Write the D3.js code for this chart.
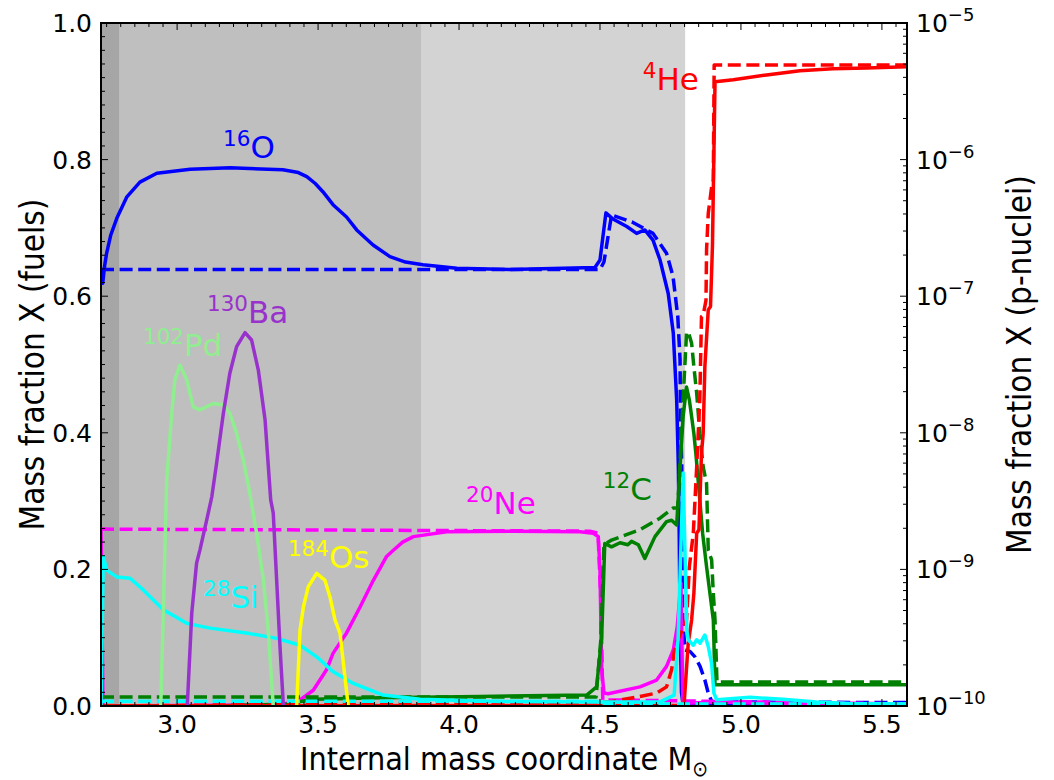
<!DOCTYPE html>
<html>
<head>
<meta charset="utf-8">
<script src="https://cdn.jsdelivr.net/npm/d3@7"></script>
<style>
  body { margin: 0; background: #fff; }
  svg { display: block; }
  text { font-family: "DejaVu Sans", sans-serif; }
  .axlabel { font-family: "DejaVu Sans Condensed", "DejaVu Sans", sans-serif; font-stretch: condensed; }
</style>
</head>
<body>
<svg id="chart" width="1054" height="780"></svg>
<script>
// ---- burning-shell boundaries (internal mass, Msun) and their shading ----
const shellEdges = [2.794, 3.865, 4.802];
const shellColors = ["#a6a6a6", "#bfbfbf", "#d3d3d3"];

// ---- fuel mass fractions: [mass coordinate, X] ----
const o16 = [[2.73,0.640],[2.736,0.619],[2.743,0.645],[2.750,0.663],[2.765,0.690],[2.786,0.714],[2.821,0.745],[2.868,0.767],[2.928,0.780],[3.046,0.786],[3.188,0.788],[3.375,0.785],[3.430,0.781],[3.460,0.775],[3.490,0.765],[3.517,0.753],[3.553,0.734],[3.601,0.716],[3.637,0.697],[3.695,0.675],[3.755,0.658],[3.810,0.650],[3.872,0.646],[3.992,0.641],[4.181,0.639],[4.482,0.642],[4.500,0.653],[4.521,0.722],[4.546,0.713],[4.595,0.702],[4.630,0.692],[4.659,0.697],[4.688,0.682],[4.713,0.653],[4.742,0.604],[4.760,0.546],[4.772,0.448],[4.778,0.350],[4.781,0.253],[4.784,0.126],[4.789,0.020],[4.794,0.004],[4.925,0.004],[5.589,0.003]];
const o16Init = [[2.73,0.639],[4.500,0.639],[4.514,0.650],[4.541,0.719],[4.617,0.708],[4.688,0.692],[4.736,0.663],[4.759,0.629],[4.776,0.570],[4.784,0.507],[4.785,0.448],[4.790,0.350],[4.793,0.126],[4.802,0.082],[4.819,0.080],[4.837,0.072],[4.855,0.058],[4.872,0.038],[4.884,0.019],[4.897,0.006],[5.589,0.005]];

const ne20 = [[2.73,0.259],[2.737,0.0],[3.365,0.0015],[3.436,0.009],[3.483,0.023],[3.530,0.053],[3.553,0.077],[3.601,0.107],[3.649,0.145],[3.696,0.184],[3.743,0.219],[3.767,0.228],[3.800,0.240],[3.838,0.248],[3.956,0.255],[4.192,0.256],[4.429,0.255],[4.476,0.253],[4.494,0.248],[4.500,0.199],[4.506,0.053],[4.514,0.019],[4.529,0.018],[4.642,0.028],[4.701,0.038],[4.736,0.058],[4.760,0.082],[4.774,0.116],[4.784,0.165],[4.787,0.180],[4.794,0.004],[4.925,0.006],[5.067,0.004],[5.589,0.003]];
const ne20Init = [[2.73,0.259],[3.907,0.257],[4.464,0.256],[4.493,0.253],[4.503,0.155],[4.510,0.009],[5.589,0.003]];

const c12 = [[2.73,0.0],[3.140,0.0],[3.389,0.003],[3.482,0.010],[3.720,0.012],[4.074,0.014],[4.453,0.016],[4.488,0.028],[4.506,0.101],[4.517,0.238],[4.541,0.233],[4.571,0.239],[4.599,0.236],[4.612,0.241],[4.636,0.236],[4.659,0.216],[4.695,0.248],[4.736,0.270],[4.754,0.272],[4.772,0.265],[4.784,0.350],[4.795,0.424],[4.807,0.467],[4.817,0.448],[4.825,0.424],[4.833,0.399],[4.840,0.370],[4.848,0.331],[4.854,0.302],[4.864,0.253],[4.878,0.204],[4.890,0.165],[4.902,0.126],[4.908,0.031],[5.589,0.031]];
const c12Init = [[2.73,0.013],[4.486,0.013],[4.503,0.097],[4.514,0.236],[4.541,0.243],[4.642,0.258],[4.713,0.275],[4.760,0.290],[4.776,0.290],[4.791,0.419],[4.807,0.546],[4.813,0.548],[4.825,0.531],[4.833,0.497],[4.843,0.458],[4.854,0.399],[4.866,0.350],[4.878,0.326],[4.884,0.228],[4.896,0.214],[4.902,0.165],[4.908,0.126],[4.915,0.035],[5.589,0.035]];

const he4 = [[2.73,0.0],[4.798,0.001],[4.813,0.092],[4.825,0.126],[4.833,0.165],[4.843,0.253],[4.851,0.258],[4.860,0.370],[4.866,0.399],[4.872,0.497],[4.884,0.580],[4.892,0.585],[4.899,0.675],[4.908,0.914],[4.973,0.917],[5.091,0.924],[5.209,0.930],[5.326,0.933],[5.446,0.934],[5.589,0.936]];
const he4Init = [[2.73,0.0],[4.535,0.006],[4.642,0.014],[4.701,0.019],[4.736,0.028],[4.754,0.053],[4.766,0.087],[4.784,0.104],[4.807,0.126],[4.817,0.204],[4.831,0.253],[4.843,0.350],[4.854,0.448],[4.860,0.570],[4.866,0.572],[4.876,0.594],[4.878,0.668],[4.884,0.721],[4.896,0.760],[4.902,0.770],[4.905,0.9385],[5.589,0.9385]];

const si28 = [[2.73,0.0],[2.738,0.219],[2.750,0.199],[2.786,0.189],[2.833,0.187],[2.880,0.170],[2.951,0.141],[3.034,0.121],[3.117,0.114],[3.258,0.106],[3.353,0.099],[3.436,0.089],[3.495,0.072],[3.554,0.050],[3.625,0.033],[3.731,0.016],[3.861,0.010],[4.145,0.0066],[4.500,0.006],[4.713,0.006],[4.763,0.016],[4.777,0.097],[4.795,0.341],[4.808,0.111],[4.813,0.097],[4.831,0.089],[4.843,0.097],[4.855,0.092],[4.872,0.104],[4.884,0.087],[4.896,0.0625],[4.904,0.019],[4.914,0.009],[5.032,0.0127],[5.149,0.0098],[5.268,0.006],[5.386,0.0037],[5.589,0.003]];
const si28Init = [[2.73,0.007],[4.50,0.007],[4.52,0.003],[5.589,0.003]];

// ---- p-nuclei mass fractions (log axis): [mass coordinate, X] ----
const pd102 = [[2.942,1e-10],[2.951,4.8e-10],[2.963,4.5e-9],[2.981,1.39e-8],[2.992,2.45e-8],[3.010,3.13e-8],[3.034,2.45e-8],[3.057,1.55e-8],[3.081,1.47e-8],[3.128,1.64e-8],[3.164,1.6e-8],[3.187,1.39e-8],[3.211,9.9e-9],[3.235,6.3e-9],[3.258,3.6e-9],[3.282,1.84e-9],[3.306,8.4e-10],[3.323,3.6e-10],[3.341,1e-10]];
const ba130 = [[3.036,1e-10],[3.052,4.8e-10],[3.069,1.11e-9],[3.081,1.39e-9],[3.105,2.3e-9],[3.123,3.4e-9],[3.140,5.98e-9],[3.164,1.39e-8],[3.187,2.73e-8],[3.211,4.27e-8],[3.241,5.41e-8],[3.264,4.78e-8],[3.288,2.88e-8],[3.312,1.24e-8],[3.332,3.22e-9],[3.341,2.58e-9],[3.353,8.4e-10],[3.365,2.7e-10],[3.377,1e-10]];
const os184 = [[3.424,1e-10],[3.436,3.6e-10],[3.448,5.33e-10],[3.465,7.46e-10],[3.495,9.35e-10],[3.524,8.36e-10],[3.542,6.31e-10],[3.560,4.27e-10],[3.578,3.4e-10],[3.595,1.64e-10],[3.607,1e-10]];

// ---- isotope annotations: mass number, element, colour, position (mass, X on fuel axis) ----
const isoLabels = [
  { a: "16",  el: "O",  color: "#0000ff", m: 3.163, x: 0.802 },
  { a: "4",   el: "He", color: "#ff0000", m: 4.652, x: 0.902 },
  { a: "130", el: "Ba", color: "#9932cc", m: 3.106, x: 0.561 },
  { a: "102", el: "Pd", color: "#90ee90", m: 2.879, x: 0.512 },
  { a: "28",  el: "Si", color: "#00ffff", m: 3.092, x: 0.143 },
  { a: "184", el: "Os", color: "#ffff00", m: 3.393, x: 0.202 },
  { a: "20",  el: "Ne", color: "#ff00ff", m: 4.025, x: 0.281 },
  { a: "12",  el: "C",  color: "#008000", m: 4.510, x: 0.302 }
];

// ---- axis settings ----
const massDomain = [2.73, 5.589];
const massTicks = [3.0, 3.5, 4.0, 4.5, 5.0, 5.5];
const fuelTicks = [0, 0.2, 0.4, 0.6, 0.8, 1.0];
const pTicksExp = [-10, -9, -8, -7, -6, -5];

// ---- layout ----
const plot = { left: 101, right: 907, top: 23, bottom: 706 };
const lw = 3.5;

const svg = d3.select("#chart");

const x = d3.scaleLinear().domain(massDomain).range([plot.left, plot.right]);
const yL = d3.scaleLinear().domain([0, 1]).range([plot.bottom, plot.top]);
const yR = d3.scaleLog().domain([1e-10, 1e-5]).range([plot.bottom, plot.top]);

svg.append("defs").append("clipPath").attr("id", "plotclip")
  .append("rect")
  .attr("x", plot.left).attr("y", plot.top)
  .attr("width", plot.right - plot.left).attr("height", plot.bottom - plot.top);

const body = svg.append("g").attr("clip-path", "url(#plotclip)");

// shaded shells (outermost first so inner, darker ones sit on top)
const shells = shellEdges.map((e, i) => ({ x1: e, color: shellColors[i] })).reverse();
body.selectAll("rect.shell").data(shells).join("rect")
  .attr("class", "shell")
  .attr("x", x(massDomain[0]))
  .attr("y", plot.top)
  .attr("width", d => x(d.x1) - x(massDomain[0]))
  .attr("height", plot.bottom - plot.top)
  .attr("fill", d => d.color);

const lineL = d3.line().x(d => x(d[0])).y(d => yL(d[1]));
const lineR = d3.line().x(d => x(d[0])).y(d => yR(Math.max(d[1], 1e-14)));

const fuelSeries = [
  { data: o16Init, color: "#0000ff", dash: true },
  { data: o16, color: "#0000ff" },
  { data: ne20Init, color: "#ff00ff", dash: true },
  { data: ne20, color: "#ff00ff" },
  { data: c12Init, color: "#008000", dash: true },
  { data: c12, color: "#008000" },
  { data: he4Init, color: "#ff0000", dash: true },
  { data: he4, color: "#ff0000" },
  { data: si28Init, color: "#00ffff", dash: true },
  { data: si28, color: "#00ffff" }
];
body.selectAll("path.fuel").data(fuelSeries).join("path")
  .attr("class", "fuel")
  .attr("d", d => lineL(d.data))
  .attr("fill", "none")
  .attr("stroke", d => d.color)
  .attr("stroke-width", lw)
  .attr("stroke-linejoin", "round")
  .attr("stroke-dasharray", d => d.dash ? "13,5.6" : null);

const pSeries = [
  { data: pd102, color: "#90ee90" },
  { data: ba130, color: "#9932cc" },
  { data: os184, color: "#ffff00" }
];
body.selectAll("path.pnuc").data(pSeries).join("path")
  .attr("class", "pnuc")
  .attr("d", d => lineR(d.data))
  .attr("fill", "none")
  .attr("stroke", d => d.color)
  .attr("stroke-width", lw)
  .attr("stroke-linejoin", "round");

// isotope annotations
const lab = svg.append("g");
isoLabels.forEach(l => {
  const t = lab.append("text")
    .attr("x", x(l.m)).attr("y", yL(l.x))
    .attr("fill", l.color)
    .style("font-size", "31px");
  t.append("tspan").text(l.a).style("font-size", "21.5px").attr("dy", -12);
  t.append("tspan").text(l.el).attr("dy", 12);
});

// ---- frame and ticks ----
const tickG = svg.append("g").attr("stroke", "#000").attr("stroke-width", 1);
d3.range(2.75, 5.6, 0.05).filter(v => v >= massDomain[0] && v <= massDomain[1]).forEach(v => {
  const major = Math.abs(v * 2 - Math.round(v * 2)) < 1e-6;
  const len = major ? 7 : 4;
  tickG.append("line").attr("x1", x(v)).attr("x2", x(v)).attr("y1", plot.bottom).attr("y2", plot.bottom - len);
  tickG.append("line").attr("x1", x(v)).attr("x2", x(v)).attr("y1", plot.top).attr("y2", plot.top + len);
});
d3.range(0, 1.0001, 0.02).forEach(v => {
  const major = Math.abs(v * 5 - Math.round(v * 5)) < 1e-6;
  const len = major ? 7 : 4;
  tickG.append("line").attr("x1", plot.left).attr("x2", plot.left + len).attr("y1", yL(v)).attr("y2", yL(v));
});
for (let e = -10; e < -5; e++) {
  for (let k = 1; k <= 9; k++) {
    const v = k * Math.pow(10, e);
    const len = k === 1 ? 7 : 4;
    tickG.append("line").attr("x1", plot.right).attr("x2", plot.right - len).attr("y1", yR(v)).attr("y2", yR(v));
  }
}
tickG.append("line").attr("x1", plot.right).attr("x2", plot.right - 7).attr("y1", yR(1e-5)).attr("y2", yR(1e-5));

svg.append("rect")
  .attr("x", plot.left).attr("y", plot.top)
  .attr("width", plot.right - plot.left).attr("height", plot.bottom - plot.top)
  .attr("fill", "none").attr("stroke", "#000").attr("stroke-width", 2);

// tick labels
svg.append("g").selectAll("text").data(massTicks).join("text")
  .attr("x", d => x(d)).attr("y", plot.bottom + 27)
  .attr("text-anchor", "middle").style("font-size", "25px")
  .text(d => d.toFixed(1));
svg.append("g").selectAll("text").data(fuelTicks).join("text")
  .attr("x", plot.left - 9).attr("y", d => yL(d) + 9)
  .attr("text-anchor", "end").style("font-size", "25px")
  .text(d => d.toFixed(1));
const rt = svg.append("g").selectAll("text").data(pTicksExp).join("text")
  .attr("x", plot.right + 9).attr("y", d => yR(Math.pow(10, d)) + 9)
  .style("font-size", "25px");
rt.append("tspan").text("10");
rt.append("tspan").text(d => "\u2212" + Math.abs(d)).style("font-size", "18px").attr("dy", -11);

// axis titles
const xt = svg.append("text").attr("class", "axlabel")
  .attr("x", (plot.left + plot.right) / 2).attr("y", 770)
  .attr("text-anchor", "middle").style("font-size", "32px");
xt.append("tspan").text("Internal mass coordinate M");
xt.append("tspan").text("\u2299").style("font-size", "21px").attr("dy", 6);

svg.append("text").attr("class", "axlabel")
  .attr("transform", `translate(44,${(plot.top + plot.bottom) / 2}) rotate(-90)`)
  .attr("text-anchor", "middle").style("font-size", "33px")
  .text("Mass fraction X (fuels)");
svg.append("text").attr("class", "axlabel")
  .attr("transform", `translate(1031,${(plot.top + plot.bottom) / 2}) rotate(-90)`)
  .attr("text-anchor", "middle").style("font-size", "33px")
  .text("Mass fraction X (p-nuclei)");
</script>
</body>
</html>
